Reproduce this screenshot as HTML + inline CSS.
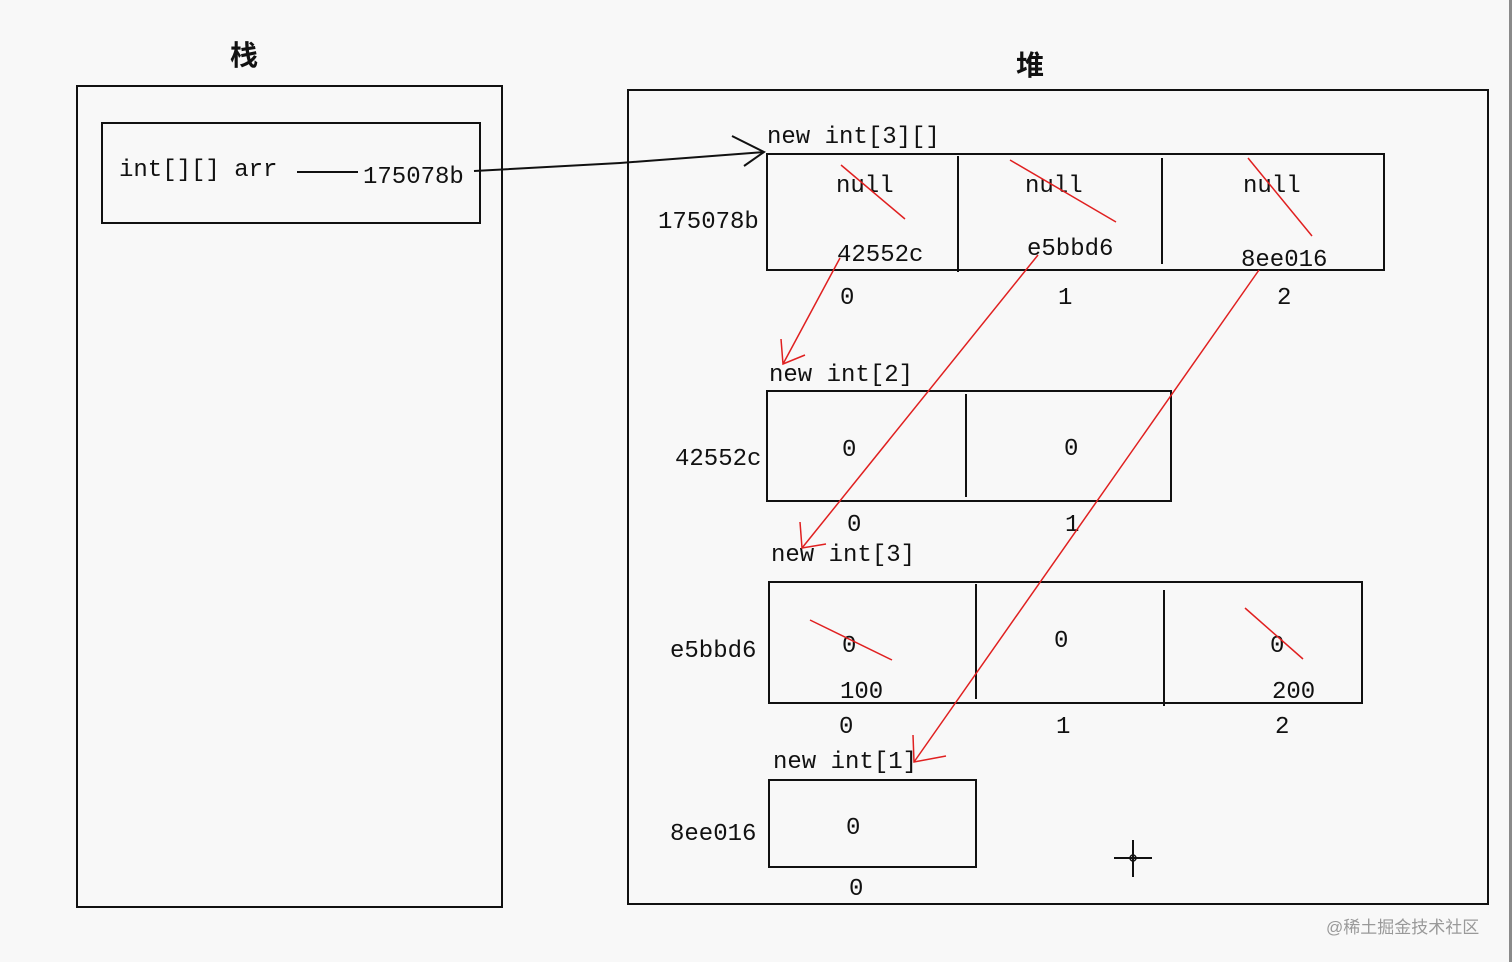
<!DOCTYPE html>
<html><head><meta charset="utf-8"><style>
html,body{margin:0;padding:0;background:#f8f8f8;}
svg{display:block}
text{font-family:"Liberation Mono","Noto Sans CJK SC",monospace;font-size:24px;fill:#111}
.cj{font-family:"Liberation Sans","Noto Sans CJK SC",sans-serif;font-size:28px;font-weight:bold}
</style></head><body>
<svg width="1512" height="962" viewBox="0 0 1512 962" xmlns="http://www.w3.org/2000/svg">
<rect width="1512" height="962" fill="#f8f8f8"/>
<rect x="1509" y="0" width="3" height="962" fill="#8a8a8a"/>
<g fill="none" stroke="#111" stroke-width="2">
<rect x="77" y="86" width="425" height="821"/>
<rect x="102" y="123" width="378" height="100"/>
<rect x="628" y="90" width="860" height="814"/>
<rect x="767" y="154" width="617" height="116"/>
<line x1="958" y1="156" x2="958" y2="272"/>
<line x1="1162" y1="158" x2="1162" y2="264"/>
<rect x="767" y="391" width="404" height="110"/>
<line x1="966" y1="394" x2="966" y2="497"/>
<rect x="769" y="582" width="593" height="121"/>
<line x1="976" y1="584" x2="976" y2="699"/>
<line x1="1164" y1="590" x2="1164" y2="706"/>
<rect x="769" y="780" width="207" height="87"/>
<line x1="297" y1="172" x2="358" y2="172"/>
<polyline points="474,171 620,163 764,152"/>
<polyline points="732,136 764,152 744,166"/>
<line x1="1133" y1="840" x2="1133" y2="877"/>
<line x1="1114" y1="858" x2="1152" y2="858"/>
</g>
<circle cx="1133" cy="858" r="3" fill="none" stroke="#111" stroke-width="1.5"/>
<text class="cj" x="230" y="65">栈</text>
<text class="cj" x="1016" y="75">堆</text>
<text x="119" y="176">int[][] arr</text>
<text x="363" y="183">175078b</text>
<text x="767" y="143">new int[3][]</text>
<text x="658" y="228">175078b</text>
<text x="836" y="192">null</text>
<text x="1025" y="192">null</text>
<text x="1243" y="192">null</text>
<text x="837" y="261">42552c</text>
<text x="1027" y="255">e5bbd6</text>
<text x="1241" y="266">8ee016</text>
<text x="840" y="304">0</text>
<text x="1058" y="304">1</text>
<text x="1277" y="304">2</text>
<text x="769" y="381">new int[2]</text>
<text x="675" y="465">42552c</text>
<text x="842" y="456">0</text>
<text x="1064" y="455">0</text>
<text x="847" y="531">0</text>
<text x="1065" y="531">1</text>
<text x="771" y="561">new int[3]</text>
<text x="670" y="657">e5bbd6</text>
<text x="842" y="652">0</text>
<text x="1054" y="647">0</text>
<text x="1270" y="652">0</text>
<text x="840" y="698">100</text>
<text x="1272" y="698">200</text>
<text x="839" y="733">0</text>
<text x="1056" y="733">1</text>
<text x="1275" y="733">2</text>
<text x="773" y="768">new int[1]</text>
<text x="670" y="840">8ee016</text>
<text x="846" y="834">0</text>
<text x="849" y="895">0</text>
<text x="1326" y="933" style="font-family:'Liberation Sans','Noto Sans CJK SC',sans-serif;font-size:17px;fill:#999">@稀土掘金技术社区</text>
<g fill="none" stroke="#e02020" stroke-width="1.5">
<line x1="841" y1="165" x2="905" y2="219"/>
<line x1="1010" y1="160" x2="1116" y2="222"/>
<line x1="1248" y1="158" x2="1312" y2="236"/>
<line x1="810" y1="620" x2="892" y2="660"/>
<line x1="1245" y1="608" x2="1303" y2="659"/>
<line x1="840" y1="258" x2="783" y2="364"/>
<polyline points="781,339 783,364 805,355"/>
<line x1="1038" y1="255" x2="802" y2="548"/>
<polyline points="800,522 802,548 826,544"/>
<line x1="1259" y1="270" x2="914" y2="762"/>
<polyline points="913,735 914,762 946,756"/>
</g>
</svg>
</body></html>
